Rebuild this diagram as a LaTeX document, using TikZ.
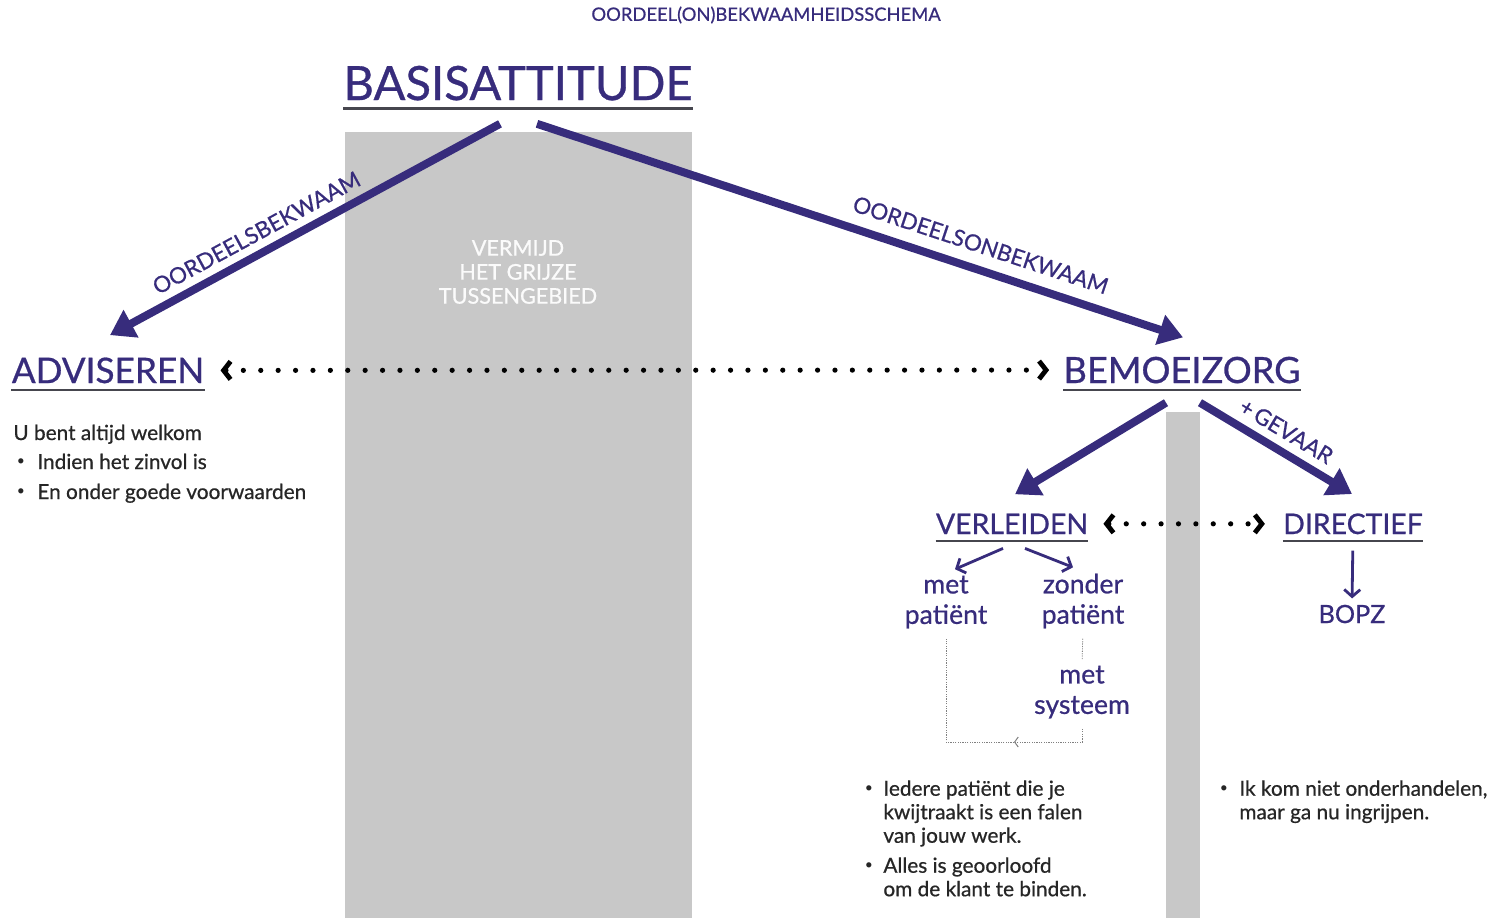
\documentclass[tikz,border=0pt]{standalone}
\usepackage{fontspec}
\setmainfont{Lato}
\newfontfamily\zwaar{Lato}[FakeBold=0.7]
\usetikzlibrary{arrows.meta,positioning}
\definecolor{paars}{RGB}{55,44,124}
\definecolor{grijs}{RGB}{200,200,200}
\definecolor{streep}{RGB}{70,70,78}
\begin{document}
\begin{tikzpicture}[x=0.5pt,y=-0.5pt,
  kop/.style={text=paars,inner sep=0pt,anchor=base},
  ulijn/.style={draw=streep,line width=1.2pt},
  dik/.style={draw=paars,line width=4pt,-{Triangle[length=12pt,width=15pt]}},
  dun/.style={draw=paars,line width=1.4pt,-{Straight Barb[length=3.5pt,width=8pt]}},
  stip/.style={draw=black,line width=2.6pt,dash pattern=on 0pt off 8.7pt,line cap=round,
    {Straight Barb[length=3.5pt,width=9pt,line width=2.4pt]}-{Straight Barb[length=3.5pt,width=9pt,line width=2.4pt]}},
  punt/.style={draw=gray,line width=0.4pt,dash pattern=on 0.6pt off 0.6pt},
  schuin/.style={text=paars,font=\zwaar\fontsize{11.2}{13}\selectfont,sloped,above=4pt,inner sep=0pt},
  lijst/.style={font=\zwaar\fontsize{10.4}{11.75}\selectfont,text=black!85,inner sep=0pt,align=left},
  bol/.style={font=\fontsize{7}{8}\selectfont,text=black!85,inner sep=0pt,anchor=center},
  sub/.style={text=paars,font=\zwaar\fontsize{13.3}{15.2}\selectfont,align=center,inner sep=0pt}]
\useasboundingbox (0,0) rectangle (1503,918);
% grijze vlakken
\fill[grijs] (345,132) rectangle (692,918);
\fill[grijs] (1166,412) rectangle (1200,918);
\node[text=white!92!grijs,font=\zwaar\fontsize{10.8}{12}\selectfont,align=center,inner sep=0pt] (grijs) at (518,272)
  {VERMIJD\\HET GRIJZE\\TUSSENGEBIED};
% koppen
\node[text=paars,font=\zwaar\fontsize{9.2}{10}\selectfont,inner sep=0pt] (titel) at (766,15) {OORDEEL(ON)BEKWAAMHEIDSSCHEMA};
\node[kop,font=\zwaar\fontsize{23.6}{28}\selectfont] (basis) at (518,100) {BASISATTITUDE};
\node[kop,font=\zwaar\fontsize{17.6}{20}\selectfont] (advis) at (108,383) {ADVISEREN};
\node[kop,font=\zwaar\fontsize{18.1}{20}\selectfont] (bemoei) at (1182,383) {BEMOEIZORG};
\node[kop,font=\zwaar\fontsize{14.2}{16}\selectfont] (verl) at (1012,534) {VERLEIDEN};
\node[kop,font=\zwaar\fontsize{14.2}{16}\selectfont] (dir) at (1353,534) {DIRECTIEF};
\foreach \k/\d in {basis/4.2pt,advis/3.5pt,bemoei/3.5pt,verl/3.5pt,dir/3.5pt}{
  \draw[ulijn] ([yshift=-\d]\k.base west) -- ([yshift=-\d]\k.base east);
}
% pijlen
\draw[dik] ([xshift=-9pt,yshift=-11.5pt]basis.south) -- node[schuin,pos=0.6] {OORDEELSBEKWAAM} ([xshift=1pt,yshift=11pt]advis.north);
\draw[dik] ([xshift=9.5pt,yshift=-11.5pt]basis.south) -- node[schuin,pos=0.675,above=6pt] {OORDEELSONBEKWAAM} ([xshift=0.5pt,yshift=9.5pt]bemoei.north);
\draw[stip,shorten <=8pt,shorten >=7pt] (advis.east) -- (bemoei.west);
\draw[dik] ([xshift=-8pt,yshift=-9.5pt]bemoei.south) -- ([xshift=1.5pt,yshift=9.5pt]verl.north);
\draw[dik] ([xshift=9pt,yshift=-9.5pt]bemoei.south) -- node[schuin,pos=0.5] {+\,GEVAAR} ([xshift=-0.5pt,yshift=9.5pt]dir.north);
\draw[stip,shorten <=7.5pt,shorten >=9pt] (verl.east) -- (dir.west);
% verleiden
\node[sub] (met) at (946,602) {met\\patiënt};
\node[sub] (zonder) at (1083,601) {zonder\\patiënt};
\node[sub] (sys) at (1082,692) {met\\systeem};
\draw[dun] ([xshift=-4.5pt,yshift=-7pt]verl.south) -- ([xshift=4.5pt,yshift=3pt]met.north);
\draw[dun] ([xshift=6.5pt,yshift=-7pt]verl.south) -- ([xshift=-5pt,yshift=3pt]zonder.north);
\coordinate (hoek) at (1014,742);
\draw[punt,shorten <=5pt,shorten >=3pt] (zonder.south) -- (sys.north);
\draw[punt,shorten <=5pt,-{Straight Barb[length=1.8pt,width=5pt,line width=0.5pt]}] (sys.south) |- (hoek);
\draw[punt,shorten >=5pt] (hoek) -| (met.south);
% directief
\node[sub,font=\zwaar\fontsize{12.6}{15}\selectfont] (bopz) at (1352,614) {BOPZ};
\draw[dun,shorten <=8pt,shorten >=3pt] (dir.south) -- (bopz.north);
% teksten
\node[lijst,anchor=base west] (welkom) at (13,440) {U bent altijd welkom};
\foreach \y/\t [count=\i] in {469/Indien het zinvol is,499/En onder goede voorwaarden}{
  \node[bol] (b\i) at (21,\y-7) {•};
  \node[lijst,anchor=base west] (r\i) at (37,\y) {\t};
}
\node[bol] (b3) at (869,789) {•};
\node[lijst,anchor=north west] (r3) at (883,780) {Iedere patiënt die je\\kwijtraakt is een falen\\van jouw werk.};
\node[bol] (b4) at (869,866) {•};
\node[lijst,anchor=north west] (r4) at (883,857) {Alles is geoorloofd\\om de klant te binden.};
\node[bol] (b5) at (1224,789) {•};
\node[lijst,anchor=north west] (r5) at (1239,780) {Ik kom niet onderhandelen,\\maar ga nu ingrijpen.};
\end{tikzpicture}
\end{document}
